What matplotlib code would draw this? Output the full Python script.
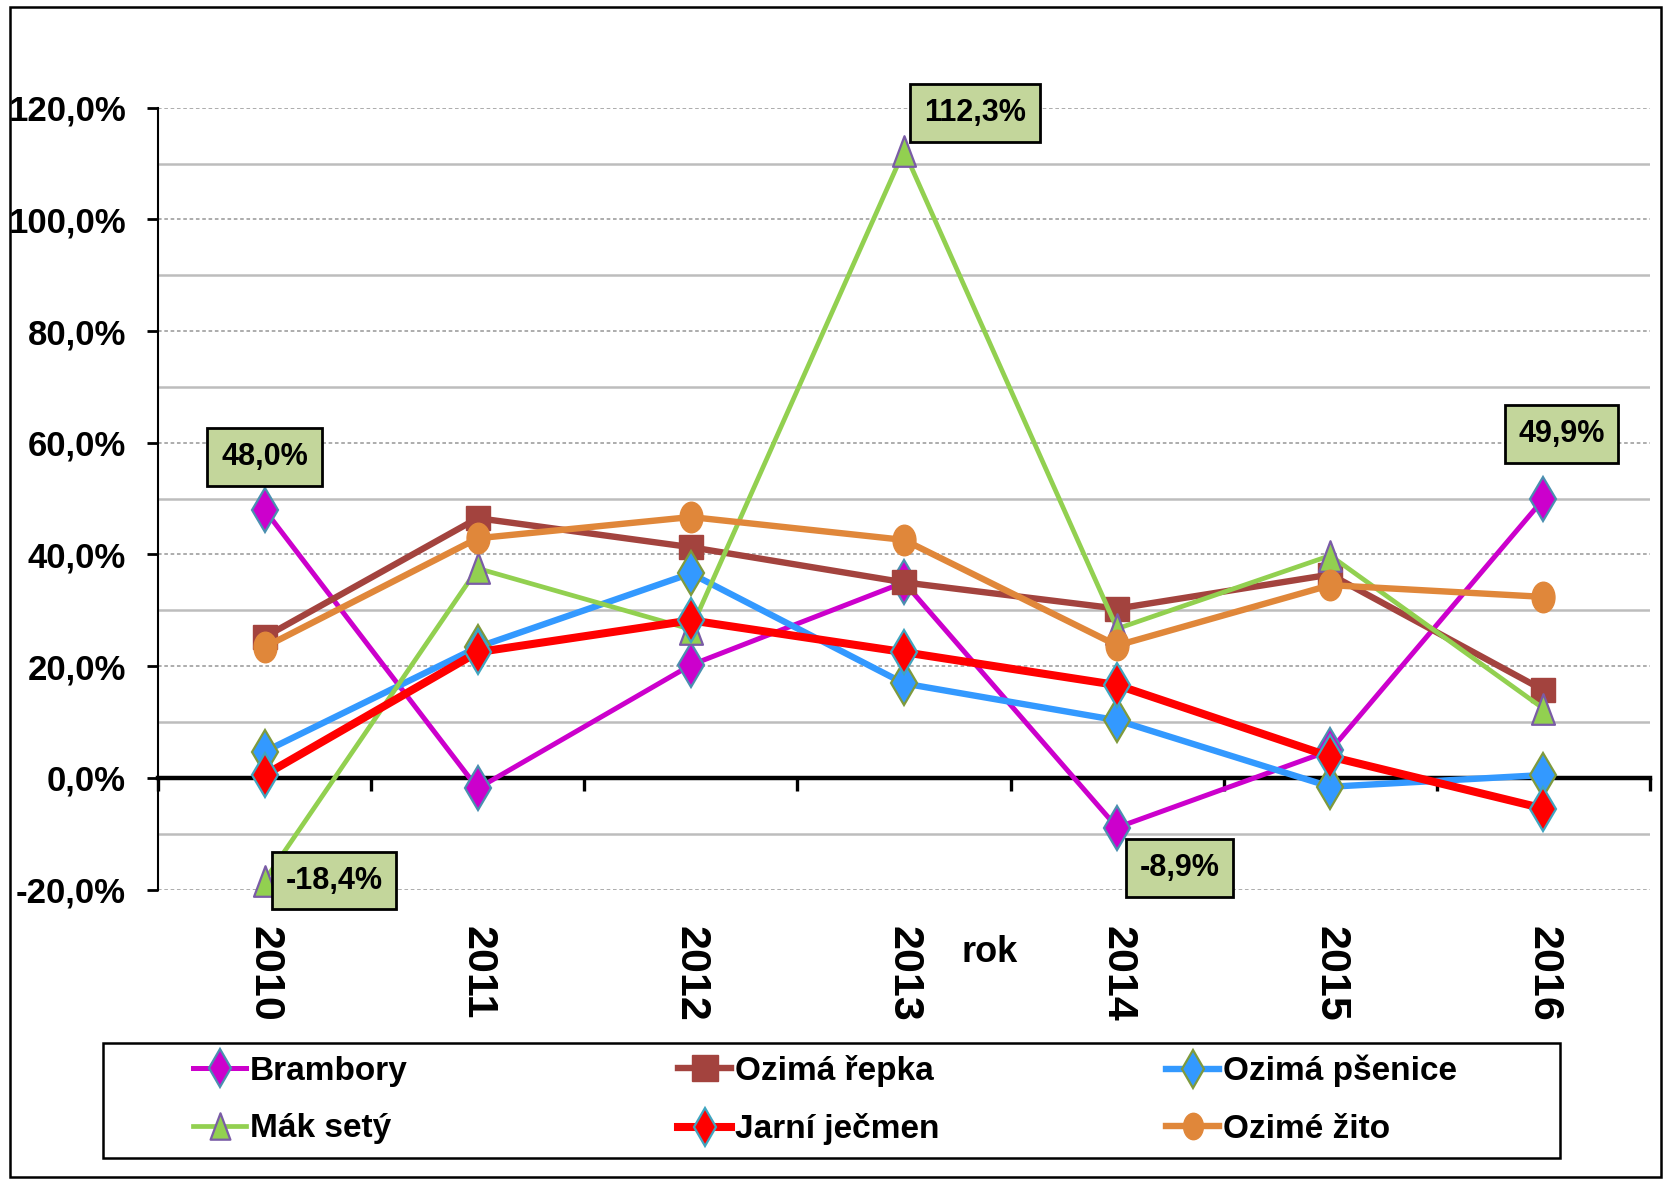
import matplotlib
matplotlib.use("Agg")
import matplotlib.pyplot as plt
from matplotlib.path import Path
from matplotlib.patches import Rectangle
import numpy as np

# ---------------- data ----------------
years = ["2010", "2011", "2012", "2013", "2014", "2015", "2016"]
brambory = [48.0, -1.9, 20.2, 35.0, -8.9, 4.9, 49.9]
ozima_repka = [25.2, 46.5, 41.3, 35.0, 30.3, 36.4, 15.7]
ozima_psenice = [4.7, 23.4, 36.6, 16.9, 10.3, -1.6, 0.5]
mak_sety = [-18.4, 37.5, 26.6, 112.3, 26.7, 39.8, 12.4]
jarni_jecmen = [0.5, 22.5, 28.2, 22.5, 16.6, 3.8, -5.5]
ozime_zito = [23.4, 42.9, 46.7, 42.6, 23.7, 34.5, 32.4]
series_names = ["Brambory", "Ozimá řepka", "Ozimá pšenice", "Mák setý", "Jarní ječmen", "Ozimé žito"]
yticks = [-20, 0, 20, 40, 60, 80, 100, 120]
ytick_labels = ["-20,0%", "0,0%", "20,0%", "40,0%", "60,0%", "80,0%", "100,0%", "120,0%"]
x_title = "rok"
# labelled points: (series index, category index, text)
point_labels = [(0, 0, "48,0%"), (3, 0, "-18,4%"), (3, 3, "112,3%"), (0, 4, "-8,9%"), (0, 6, "49,9%")]

# ---------------- styles ----------------
FONT = ["Liberation Sans", "DejaVu Sans"]
plt.rcParams["font.family"] = FONT

circ = Path.unit_circle()
ellipse = Path(circ.vertices * np.array([0.75, 1.0]), circ.codes)
tall_tri = Path([(0, 1), (-0.75, -1), (0.75, -1), (0, 1)],
                [Path.MOVETO, Path.LINETO, Path.LINETO, Path.CLOSEPOLY])

styles = [
    dict(color="#cc00cc", lw=3.6, marker="d", ms=22, mfc="#cc00cc", mec="#4a8fb0", mew=1.6),
    dict(color="#a3433e", lw=4.6, marker="s", ms=17, mfc="#a3433e", mec="#a3433e", mew=1.0),
    dict(color="#3399ff", lw=4.6, marker="d", ms=22, mfc="#3399ff", mec="#7f9a3c", mew=1.6),
    dict(color="#92d050", lw=3.4, marker=tall_tri, ms=22, mfc="#92d050", mec="#7a5ca6", mew=1.6),
    dict(color="#ff0000", lw=5.8, marker="d", ms=22, mfc="#ff0000", mec="#3fa5c0", mew=1.6),
    dict(color="#e0873a", lw=4.6, marker=ellipse, ms=22, mfc="#e0873a", mec="#e0873a", mew=1.0),
]
all_series = [brambory, ozima_repka, ozima_psenice, mak_sety, jarni_jecmen, ozime_zito]

fig = plt.figure(figsize=(16.68, 11.82), dpi=100)
ax = fig.add_axes([158 / 1668, 1 - 889.5 / 1182, (1650 - 158) / 1668, (889.5 - 107.7) / 1182])

x = np.arange(len(years))
lines = []
for name, vals, st in zip(series_names, all_series, styles):
    (ln,) = ax.plot(x, vals, label=name, color=st["color"], lw=st["lw"], marker=st["marker"],
                    ms=st["ms"], mfc=st["mfc"], mec=st["mec"], mew=st["mew"], zorder=3,
                    solid_joinstyle="miter", clip_on=False)
    lines.append(ln)

ax.set_xlim(-0.5, len(years) - 0.5)
ax.set_ylim(-20, 120)

# y axis
ax.set_yticks(yticks)
ax.set_yticklabels(ytick_labels, fontsize=25, fontweight="bold")
ax.set_yticks(np.arange(-10, 120, 20), minor=True)
ax.tick_params(axis="y", which="major", direction="out", length=8, width=2, pad=15)
ax.tick_params(axis="y", which="minor", length=0)
ax.grid(axis="y", which="major", color="#a6a6a6", lw=1.3, linestyle=(0, (2, 1.5)), zorder=1)
ax.grid(axis="y", which="minor", color="#bdbdbd", lw=1.8, linestyle="-", zorder=1)
ax.spines["left"].set_linewidth(1.5)
ax.spines["top"].set_visible(False)
ax.spines["right"].set_visible(False)

# x axis line at zero with boundary ticks
ax.spines["bottom"].set_position(("data", 0))
ax.spines["bottom"].set_linewidth(3.2)
ax.spines["bottom"].set_zorder(2)
ax.set_xticks(np.arange(-0.5, len(years), 1.0))
ax.set_xticklabels([])
ax.tick_params(axis="x", which="major", direction="out", length=9, width=2.4)

# category labels at the bottom of the plot area
sec = ax.secondary_xaxis("bottom")
sec.set_xticks(x)
sec.set_xticklabels(years, rotation=270, fontsize=31, fontweight="bold", va="top", ha="center")
sec.tick_params(length=0, pad=26)
sec.spines["bottom"].set_visible(False)

ax.text((990 - 158) / (1650 - 158), -(952 - 889.5) / (889.5 - 107.7), x_title, transform=ax.transAxes,
        ha="center", va="center", fontsize=26, fontweight="bold")

# data labels
offsets = {(0, 0): (0, 38), (3, 0): (50, 0), (3, 3): (51, 27), (0, 4): (45, -29), (0, 6): (13, 47)}
for si, ci, txt in point_labels:
    ax.annotate(txt, xy=(x[ci], all_series[si][ci]), xytext=offsets[(si, ci)], textcoords="offset points",
                ha="center", va="center", fontsize=22, fontweight="bold", zorder=5,
                bbox=dict(boxstyle="square,pad=0.45", fc="#c3d69b", ec="black", lw=2))

# legend: three columns, each a small legend, inside one frame
col_left = [193, 678, 1166]
for c in range(3):
    lg = fig.legend([lines[c], lines[c + 3]], [series_names[c], series_names[c + 3]],
                    loc="center left", bbox_to_anchor=(col_left[c] / 1668, 1 - 1100 / 1182),
                    frameon=False, prop=dict(weight="bold", size=24), handlelength=1.6,
                    handletextpad=0.1, borderpad=0, borderaxespad=0, labelspacing=0.8)
    for h in lg.legend_handles:
        h.set_markersize(19)

fig.patches.append(Rectangle((103 / 1668, 1 - 1158 / 1182), (1560 - 103) / 1668, (1158 - 1043) / 1182,
                             transform=fig.transFigure, fill=False, ec="black", lw=1.8))

# outer frame
fig.patches.append(Rectangle((10 / 1668, 1 - 1177 / 1182), (1661 - 10) / 1668, (1177 - 7) / 1182,
                             transform=fig.transFigure, fill=False, ec="black", lw=1.8))

fig.savefig("out.png", dpi=100)
